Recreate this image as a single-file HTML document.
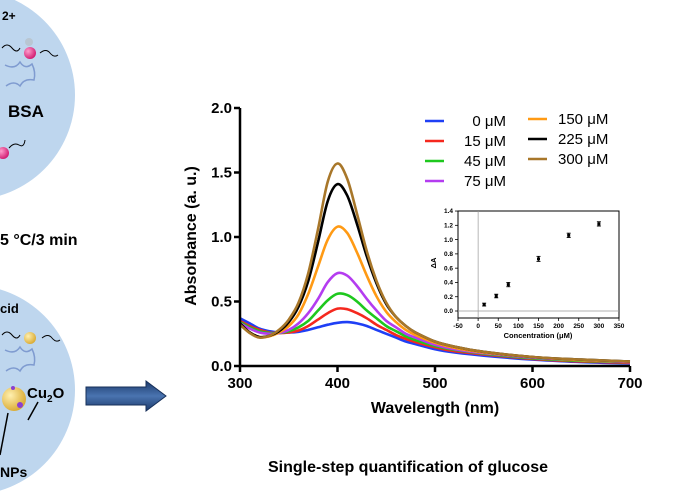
<!DOCTYPE html>
<html><head><meta charset="utf-8"><style>
html,body{margin:0;padding:0;background:#fff;}
svg{display:block;font-family:"Liberation Sans",Arial,sans-serif;}
</style></head><body>
<svg id="fig" width="680" height="500" viewBox="0 0 680 500">
<defs>
<linearGradient id="arrowGrad" x1="0" y1="0" x2="0" y2="1">
<stop offset="0" stop-color="#1c3a6b"/><stop offset="0.5" stop-color="#4a74b0"/><stop offset="1" stop-color="#1c3a6b"/>
</linearGradient>
<radialGradient id="pink" cx="0.35" cy="0.35" r="0.7"><stop offset="0" stop-color="#ff9ccc"/><stop offset="1" stop-color="#d0186e"/></radialGradient>
<radialGradient id="gold" cx="0.35" cy="0.35" r="0.7"><stop offset="0" stop-color="#fff0b0"/><stop offset="1" stop-color="#d9a930"/></radialGradient>
</defs>
<!-- left schematic -->
<g>
<circle cx="-30" cy="95" r="105" fill="#bed6ee"/>
<circle cx="-30" cy="390" r="105" fill="#bed6ee"/>
<text x="2" y="20" font-size="12" font-weight="bold">2+</text>
<path d="M2,48 q5,-6 10,0 t8,0" stroke="#000" fill="none"/>
<circle cx="29" cy="42" r="4" fill="#b9c6d2"/><circle cx="30" cy="53" r="6" fill="url(#pink)"/>
<path d="M40,53 q6,-5 10,0 t8,2" stroke="#000" fill="none"/>
<path d="M5,65 q10,5 15,-3 q5,8 12,2 q4,8 2,16 q-10,-2 -14,6 q-6,-6 -14,0" stroke="#7f9bd0" fill="none" stroke-width="1.5"/>
<text x="8" y="117" font-size="17" font-weight="bold">BSA</text>
<circle cx="3" cy="153" r="6" fill="url(#pink)"/><path d="M9,148 q5,-6 10,-3 t6,-5" stroke="#000" fill="none"/>
<text x="0" y="245" font-size="16" font-weight="bold">5 °C/3 min</text>
<text x="0" y="313" font-size="13" font-weight="bold">cid</text>
<path d="M2,335 q5,-6 10,0 t8,0" stroke="#000" fill="none"/>
<circle cx="30" cy="338" r="6" fill="url(#gold)"/>
<path d="M42,338 q6,-5 10,0 t8,2" stroke="#000" fill="none"/>
<path d="M5,350 q10,5 15,-3 q5,8 12,2 q4,8 2,16 q-10,-2 -14,6 q-6,-6 -14,0" stroke="#7f9bd0" fill="none" stroke-width="1.5"/>
<text x="27" y="398" font-size="15" font-weight="bold">Cu<tspan font-size="10" dy="4">2</tspan><tspan dy="-4">O</tspan></text>
<circle cx="14" cy="399" r="12" fill="url(#gold)"/>
<circle cx="20" cy="405" r="3" fill="#8a3fd0"/><circle cx="13" cy="388" r="2" fill="#8a3fd0"/>
<line x1="38" y1="402" x2="28" y2="420" stroke="#000" stroke-width="1.5"/>
<line x1="8" y1="413" x2="0" y2="455" stroke="#000" stroke-width="1.5"/>
<text x="0" y="477" font-size="14" font-weight="bold">NPs</text>
</g>
<path d="M86,387 L146,387 L146,381 L166,396 L146,411 L146,405 L86,405 Z" fill="url(#arrowGrad)" stroke="#17305a"/>
<g id="main"></g>
<g id="inset"></g>
<text x="408" y="472" font-size="16" font-weight="bold" text-anchor="middle">Single-step quantification of glucose</text>
</svg>
<script>
const wavelengths=[300,310,320,330,340,350,360,370,380,390,400,410,420,430,440,450,460,470,480,500,520,550,600,650,700];
const seriesNames=["0 μM","15 μM","45 μM","75 μM","150 μM","225 μM","300 μM"];
const seriesColors=["#1f3ff5","#f5281e","#1ec81e","#b43cf0","#ff9a14","#000000","#a8772a"];
const abs0=[0.37,0.33,0.29,0.27,0.26,0.26,0.265,0.28,0.30,0.32,0.335,0.34,0.33,0.31,0.28,0.25,0.22,0.19,0.17,0.13,0.105,0.08,0.05,0.03,0.02];
const abs15=[0.35,0.31,0.28,0.26,0.255,0.26,0.275,0.31,0.36,0.41,0.445,0.44,0.41,0.37,0.32,0.28,0.24,0.21,0.185,0.145,0.115,0.09,0.055,0.035,0.025];
const abs45=[0.34,0.30,0.27,0.255,0.255,0.27,0.30,0.35,0.43,0.51,0.56,0.55,0.50,0.43,0.37,0.31,0.27,0.23,0.20,0.155,0.125,0.095,0.06,0.04,0.03];
const abs75=[0.33,0.29,0.26,0.25,0.255,0.28,0.33,0.41,0.52,0.65,0.72,0.70,0.62,0.52,0.43,0.35,0.30,0.25,0.22,0.165,0.13,0.10,0.065,0.045,0.03];
const abs150=[0.32,0.26,0.225,0.23,0.26,0.31,0.40,0.56,0.77,0.98,1.08,1.03,0.88,0.70,0.54,0.42,0.34,0.28,0.24,0.18,0.14,0.105,0.07,0.045,0.035];
const abs225=[0.33,0.26,0.225,0.235,0.27,0.34,0.46,0.66,0.96,1.28,1.41,1.32,1.10,0.85,0.64,0.48,0.38,0.31,0.26,0.19,0.15,0.11,0.07,0.05,0.035];
const abs300=[0.32,0.255,0.22,0.235,0.28,0.36,0.49,0.72,1.06,1.43,1.57,1.45,1.18,0.89,0.66,0.49,0.38,0.31,0.26,0.19,0.15,0.11,0.07,0.05,0.035];
const xTicks=[300,400,500,600,700];
const yTicks=[0.0,0.5,1.0,1.5,2.0];
const conc=[15,45,75,150,225,300];
const deltaA=[0.09,0.21,0.37,0.73,1.06,1.22];
const deltaErr=[0.02,0.025,0.03,0.035,0.03,0.03];
const insetXTicks=[-50,0,50,100,150,200,250,300,350];
const insetYTicks=[0.0,0.2,0.4,0.6,0.8,1.0,1.2,1.4];

const NS="http://www.w3.org/2000/svg";
function mk(tag,attrs,parent,text){const e=document.createElementNS(NS,tag);for(const k in attrs)e.setAttribute(k,attrs[k]);if(text!==undefined)e.textContent=text;parent.appendChild(e);return e;}
const X=w=>240+(w-300)*0.975;
const Y=a=>366-a*129;
const main=document.getElementById('main');
function smooth(pts){let d="M"+pts[0][0].toFixed(1)+","+pts[0][1].toFixed(1);
for(let i=0;i<pts.length-1;i++){const p0=pts[i-1]||pts[i],p1=pts[i],p2=pts[i+1],p3=pts[i+2]||p2;
const c1=[p1[0]+(p2[0]-p0[0])/6,p1[1]+(p2[1]-p0[1])/6],c2=[p2[0]-(p3[0]-p1[0])/6,p2[1]-(p3[1]-p1[1])/6];
d+=" C"+c1[0].toFixed(1)+","+c1[1].toFixed(1)+" "+c2[0].toFixed(1)+","+c2[1].toFixed(1)+" "+p2[0].toFixed(1)+","+p2[1].toFixed(1);}return d;}
const allSeries=[abs0,abs15,abs45,abs75,abs150,abs225,abs300];
allSeries.forEach((s,i)=>{
const p=mk('path',{d:smooth(wavelengths.map((w,j)=>[X(w),Y(s[j])])),fill:'none',stroke:seriesColors[i],'stroke-width':2.6},main);


});
// axes
let ax=mk('path',{d:`M${X(300)},${Y(2)} V${Y(0)} H${X(700)}`,fill:'none',stroke:'#000','stroke-width':2.5},main);


xTicks.forEach(t=>{mk('line',{x1:X(t),x2:X(t),y1:Y(0),y2:Y(0)+6,stroke:'#000','stroke-width':2.5},main);
const l=mk('text',{x:X(t),y:388,'font-size':15,'font-weight':'bold','text-anchor':'middle'},main,String(t));

});
yTicks.forEach(t=>{mk('line',{x1:X(300)-6,x2:X(300),y1:Y(t),y2:Y(t),stroke:'#000','stroke-width':2.5},main);
const l=mk('text',{x:232,y:Y(t)+5,'font-size':15,'font-weight':'bold','text-anchor':'end'},main,t.toFixed(1));

});
let xt=mk('text',{x:435,y:413,'font-size':16,'font-weight':'bold','text-anchor':'middle'},main,'Wavelength (nm)');


let yt=mk('text',{x:0,y:0,'font-size':16,'font-weight':'bold','text-anchor':'middle',transform:'translate(196,236) rotate(-90)'},main,'Absorbance (a. u.)');


// legend
seriesNames.forEach((n,i)=>{const col=i<4?0:1,row=i<4?i:i-4;
const g=mk('g',{},main);


const ly=(col===0?121:119)+row*20;
const lx=col===0?425:528;
mk('line',{x1:lx,x2:lx+19,y1:ly,y2:ly,stroke:seriesColors[i],'stroke-width':2.6},g);
if(col===0)mk('text',{x:506,y:ly+5,'font-size':15,'text-anchor':'end'},g,n);
else mk('text',{x:558,y:ly+5,'font-size':15},g,n);
});
// inset
const ins=document.getElementById('inset');
const IX=c=>458+(c+50)*0.4025;
const IY=v=>311-v*71.4;
mk('rect',{x:458,y:211,width:161,height:107,fill:'#fff',stroke:'#000','stroke-width':1},ins);
mk('line',{x1:IX(0),x2:IX(0),y1:211,y2:318,stroke:'#999','stroke-width':0.7},ins);
mk('line',{x1:458,x2:619,y1:IY(0),y2:IY(0),stroke:'#999','stroke-width':0.7},ins);
insetXTicks.forEach(t=>{mk('line',{x1:IX(t),x2:IX(t),y1:318,y2:321,stroke:'#000','stroke-width':0.8},ins);
const l=mk('text',{x:IX(t),y:328,'font-size':6.5,'font-weight':'bold','text-anchor':'middle'},ins,String(t));

});
insetYTicks.forEach(t=>{mk('line',{x1:455,x2:458,y1:IY(t),y2:IY(t),stroke:'#000','stroke-width':0.8},ins);
const l=mk('text',{x:453,y:IY(t)+2.2,'font-size':6.5,'font-weight':'bold','text-anchor':'end'},ins,t.toFixed(1));

});
conc.forEach((c,i)=>{const g=mk('g',{},ins);


const x=IX(c),y=IY(deltaA[i]),e=deltaErr[i]*71.4;
mk('line',{x1:x,x2:x,y1:y-e,y2:y+e,stroke:'#000','stroke-width':0.9},g);
mk('line',{x1:x-2,x2:x+2,y1:y-e,y2:y-e,stroke:'#000','stroke-width':0.9},g);
mk('line',{x1:x-2,x2:x+2,y1:y+e,y2:y+e,stroke:'#000','stroke-width':0.9},g);
mk('rect',{x:x-1.5,y:y-1.5,width:3,height:3,fill:'#000'},g);});
let it=mk('text',{x:538,y:338,'font-size':7.5,'font-weight':'bold','text-anchor':'middle'},ins,'Concentration (μM)');


let iy=mk('text',{x:0,y:0,'font-size':7.5,'font-weight':'bold','text-anchor':'middle',transform:'translate(436,263) rotate(-90)'},ins,'ΔA');


</script>
</body></html>
